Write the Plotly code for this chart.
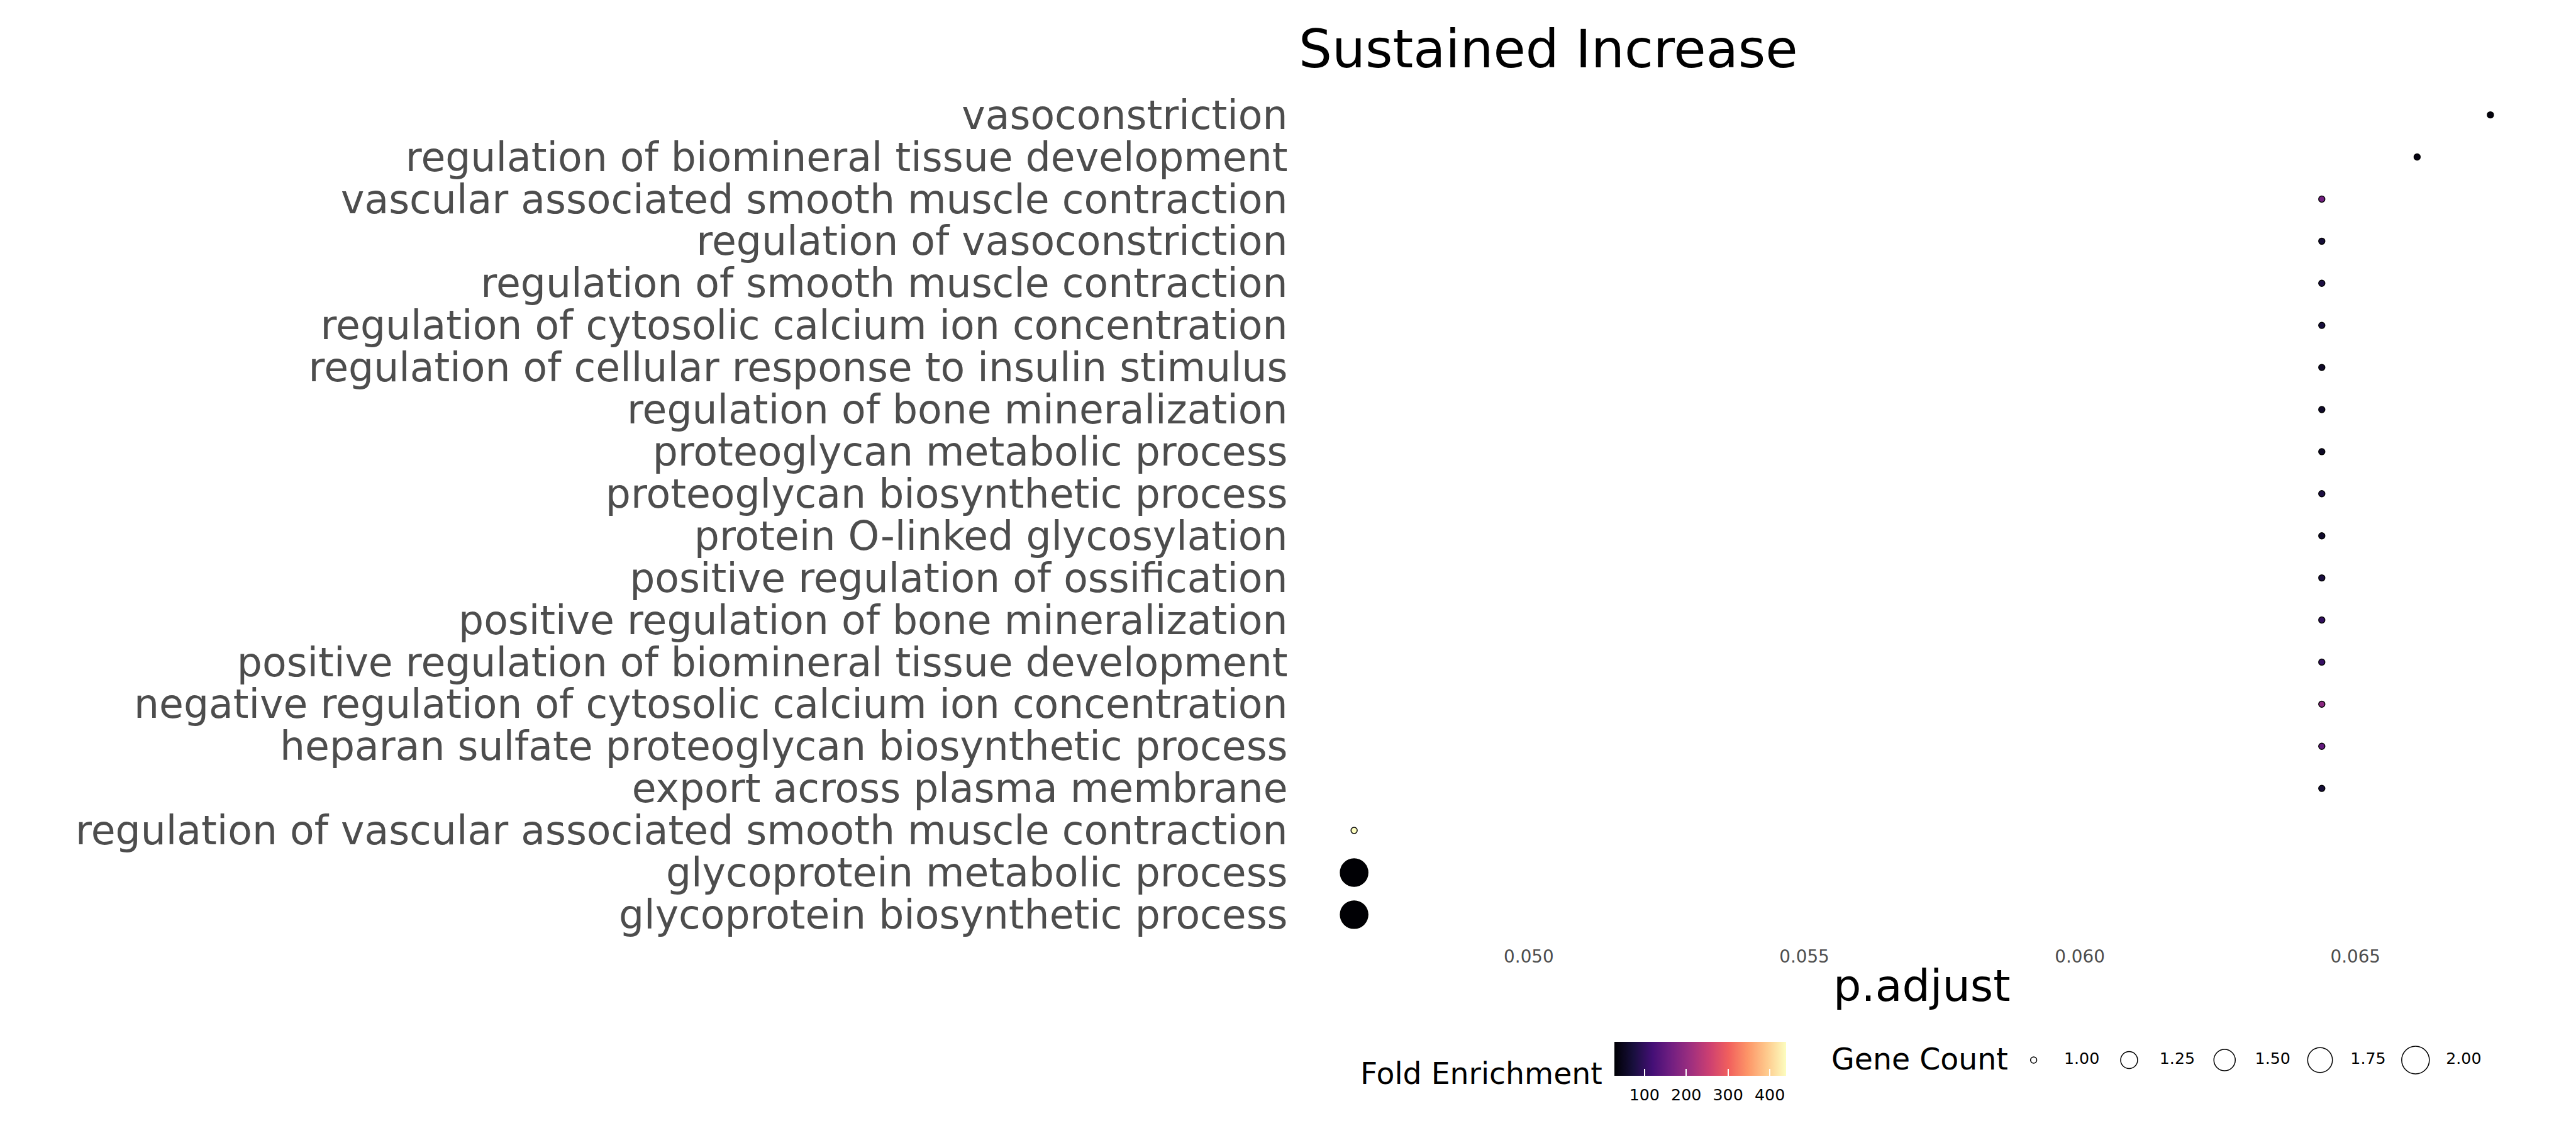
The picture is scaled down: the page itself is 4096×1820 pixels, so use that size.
import numpy as np
import plotly.graph_objects as go

# ---------------- data ----------------
terms = [
    "vasoconstriction",
    "regulation of biomineral tissue development",
    "vascular associated smooth muscle contraction",
    "regulation of vasoconstriction",
    "regulation of smooth muscle contraction",
    "regulation of cytosolic calcium ion concentration",
    "regulation of cellular response to insulin stimulus",
    "regulation of bone mineralization",
    "proteoglycan metabolic process",
    "proteoglycan biosynthetic process",
    "protein O-linked glycosylation",
    "positive regulation of ossification",
    "positive regulation of bone mineralization",
    "positive regulation of biomineral tissue development",
    "negative regulation of cytosolic calcium ion concentration",
    "heparan sulfate proteoglycan biosynthetic process",
    "export across plasma membrane",
    "regulation of vascular associated smooth muscle contraction",
    "glycoprotein metabolic process",
    "glycoprotein biosynthetic process",
]
p_adjust = [0.06745, 0.06612, 0.06439, 0.06439, 0.06439, 0.06439, 0.06439,
            0.06439, 0.06439, 0.06439, 0.06439, 0.06439, 0.06439, 0.06439,
            0.06439, 0.06439, 0.06439, 0.04683, 0.04683, 0.04683]
gene_count = [1, 1, 1, 1, 1, 1, 1, 1, 1, 1, 1, 1, 1, 1, 1, 1, 1, 1, 2, 2]
fold_enrichment = [38, 40, 165, 70, 78, 72, 58, 58, 55, 78, 60, 76, 100, 105,
                   190, 150, 70, 439, 28, 28]

x_ticks = [0.050, 0.055, 0.060, 0.065]
x_tick_labels = ["0.050", "0.055", "0.060", "0.065"]
fe_ticks = [100, 200, 300, 400]
fe_tick_labels = ["100", "200", "300", "400"]
size_legend_values = [1.00, 1.25, 1.50, 1.75, 2.00]
size_legend_labels = ["1.00", "1.25", "1.50", "1.75", "2.00"]

# ---------------- geometry / style ----------------
W, H = 4096, 1820
S = 0.758
FONT = "DejaVu Sans"
GREY = "#4D4D4D"

D_MIN, D_MAX = 15 * S, 60 * S
LW = 1.5
c_lo, c_hi = min(gene_count), max(gene_count)


def dot_size(c):
    t = (c - c_lo) / (c_hi - c_lo)
    return D_MIN + np.sqrt(t) * (D_MAX - D_MIN) - LW


# panel in output pixels
px_l, px_r = 2721 * S, 5343 * S
py_t, py_b = 188 * S, 1971 * S
x_dom = [px_l / W, px_r / W]
y_dom = [1 - py_b / H, 1 - py_t / H]


def fx(px):
    return px / W


def fy(py):
    return 1 - py / H


cb_common = dict(
    orientation="h", thickness=54, thicknessmode="pixels",
    len=273, lenmode="pixels",
    x=fx(2703.5), xanchor="center",
    y=fy(1656), yanchor="top",
    xpad=0, ypad=0, outlinewidth=0,
    tickvals=fe_ticks, ticktext=fe_tick_labels,
    tickfont=dict(family=FONT, size=25.3, color="black"),
)

fig = go.Figure()

# colour-bar carrying the tick labels (markers invisible, drawn first)
fig.add_trace(go.Scatter(
    x=p_adjust, y=terms, mode="markers",
    marker=dict(
        size=[dot_size(c) for c in gene_count], opacity=0,
        color=fold_enrichment, colorscale="Magma",
        cmin=min(fold_enrichment), cmax=max(fold_enrichment),
        colorbar=dict(**cb_common, ticks="outside", ticklen=9,
                      tickcolor="rgba(255,255,255,0)"),
    ),
    showlegend=False, hoverinfo="skip",
))

# main dots
fig.add_trace(go.Scatter(
    x=p_adjust, y=terms, mode="markers",
    marker=dict(
        size=[dot_size(c) for c in gene_count], opacity=1,
        color=fold_enrichment, colorscale="Magma",
        cmin=min(fold_enrichment), cmax=max(fold_enrichment),
        line=dict(color="black", width=LW),
        colorbar=dict(**{**cb_common, "tickfont": dict(family=FONT, size=25.3,
                                                         color="rgba(0,0,0,0)")},
                      ticks="inside", ticklen=11, tickcolor="white", tickwidth=1.5),
    ),
    showlegend=False, hoverinfo="x+y",
))

# size legend (Gene Count)
fig.add_trace(go.Scatter(
    x=size_legend_values, y=[0] * len(size_legend_values),
    xaxis="x2", yaxis="y2", mode="markers", cliponaxis=False,
    marker=dict(size=[dot_size(v) for v in size_legend_values], opacity=1,
                color="white", line=dict(color="black", width=LW)),
    showlegend=False, hoverinfo="skip",
))
fig.add_trace(go.Scatter(
    x=[v + 0.126 for v in size_legend_values], y=[0] * len(size_legend_values),
    xaxis="x2", yaxis="y2", mode="text", text=size_legend_labels, cliponaxis=False,
    textposition="middle center",
    textfont=dict(family=FONT, size=25.3, color="black"),
    showlegend=False, hoverinfo="skip",
))

sp = 151.8  # px per 0.25 of gene count in the legend
c0 = 4266 * S
x2_dom = [(c0 - sp / 2) / W, (c0 + 4 * sp + 1.5 * sp) / W]

annotations = [
    dict(text="Sustained Increase", x=x_dom[0], y=fy(77.7), xref="paper", yref="paper",
         xanchor="left", yanchor="middle", showarrow=False,
         font=dict(family=FONT, size=83.5, color="black")),
    dict(text="p.adjust", x=(x_dom[0] + x_dom[1]) / 2, y=fy(1566.8), xref="paper", yref="paper",
         xanchor="center", yanchor="middle", showarrow=False,
         font=dict(family=FONT, size=70, color="black")),
    dict(text="Fold Enrichment", x=fx(2550), y=fy(1706), xref="paper", yref="paper",
         xanchor="right", yanchor="middle", showarrow=False,
         font=dict(family=FONT, size=47.3, color="black")),
    dict(text="Gene Count", x=fx(2910), y=fy(1683.9), xref="paper", yref="paper",
         xanchor="left", yanchor="middle", showarrow=False,
         font=dict(family=FONT, size=47.4, color="black")),
]

fig.update_layout(
    width=W, height=H,
    margin=dict(l=0, r=0, t=0, b=0),
    paper_bgcolor="white", plot_bgcolor="white",
    font=dict(family=FONT),
    xaxis=dict(domain=x_dom, range=[0.045796, 0.068478], showgrid=False,
               zeroline=False, showline=False, ticks="",
               tickvals=x_ticks, ticktext=x_tick_labels,
               tickfont=dict(family=FONT, size=27.8, color=GREY),
               ticklabelstandoff=7, automargin=False, anchor="y"),
    yaxis=dict(domain=y_dom, type="category", categoryorder="array",
               categoryarray=terms, tickmode="array", tickvals=terms, ticktext=terms,
               range=[len(terms) - 1 + 0.6, -0.6],
               showgrid=False, zeroline=False, showline=False, ticks="",
               tickfont=dict(family=FONT, size=63.2, color=GREY),
               ticklabelstandoff=14, automargin=False, anchor="x"),
    xaxis2=dict(domain=x2_dom, range=[0.875, 2.375], visible=False, anchor="y2"),
    yaxis2=dict(domain=[fy(1705), fy(1665)], range=[-1, 1], visible=False, anchor="x2"),
    annotations=annotations,
)

fig.write_html("out.html")
